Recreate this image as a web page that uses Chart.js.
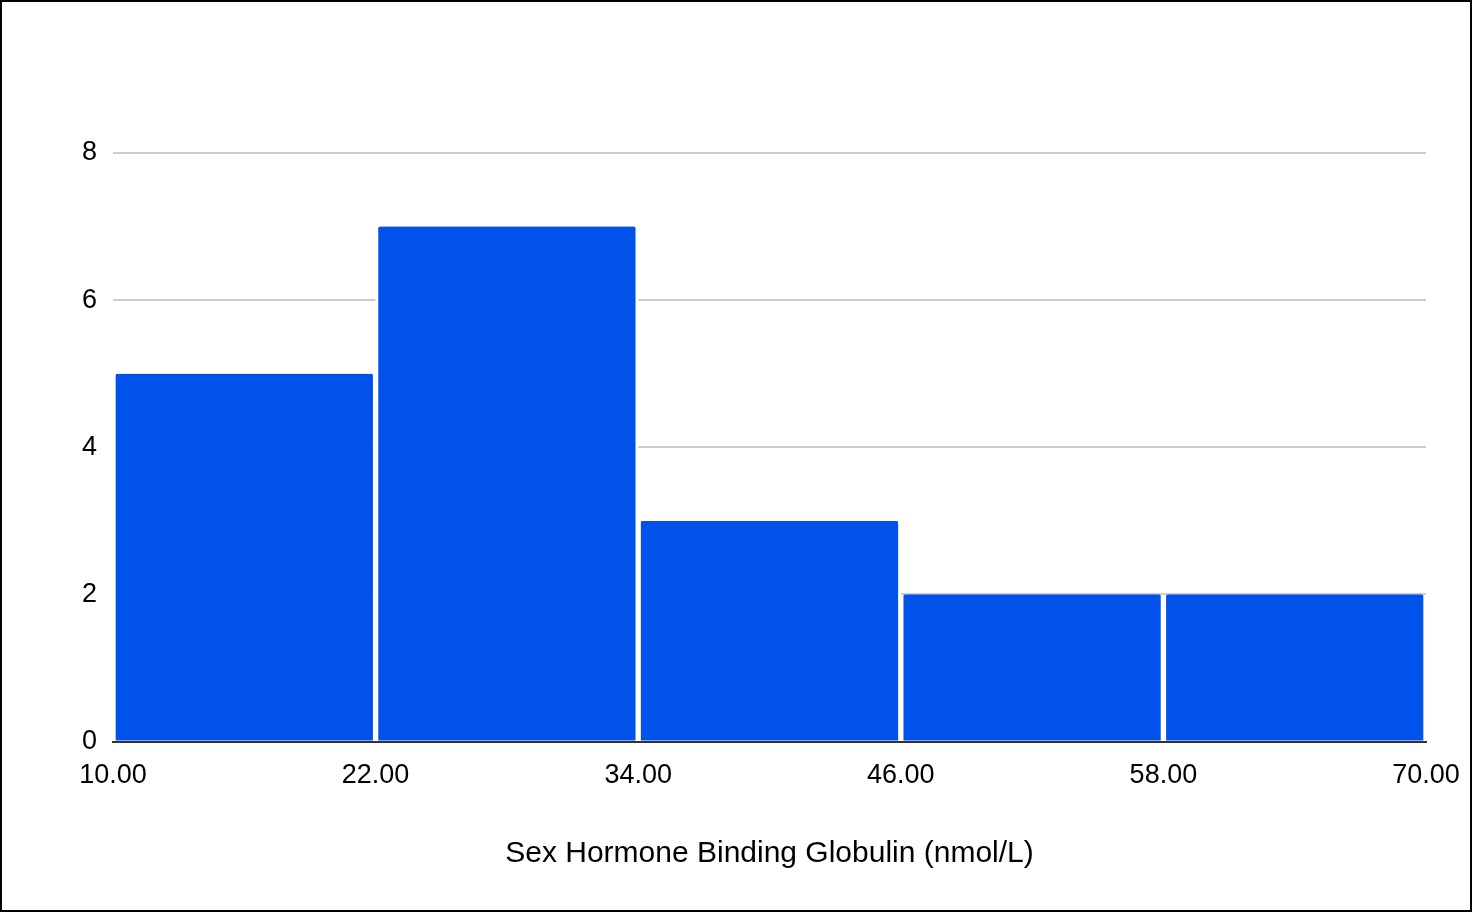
<!DOCTYPE html>
<html>
<head>
<meta charset="utf-8">
<script src="https://cdn.jsdelivr.net/npm/chart.js@4"></script>
<style>
  html, body { margin: 0; padding: 0; background: #fff; }
  #wrap {
    width: 1472px; height: 912px; box-sizing: border-box;
    border: 2px solid #000; background: #fff;
  }
  canvas { display: block; }
</style>
</head>
<body>
<div id="wrap"><canvas id="hist" width="1468" height="908"></canvas></div>
<script>
// histogram bins (nmol/L) and counts
const binEdges = [10, 22, 34, 46, 58, 70];
const counts = [5, 7, 3, 2, 2];
const yTicks = [0, 2, 4, 6, 8];
const xTitle = 'Sex Hormone Binding Globulin (nmol/L)';

const barData = counts.map((c, i) => ({ x: (binEdges[i] + binEdges[i + 1]) / 2, y: c }));

new Chart(document.getElementById('hist'), {
    type: 'bar',
    data: {
        datasets: [{
            data: barData,
            backgroundColor: '#0052EA',
            borderColor: '#ffffff',
            borderWidth: { left: 3, right: 3, top: 0, bottom: 0 },
            borderRadius: { topLeft: 5, topRight: 5 },
            borderSkipped: 'bottom',
            barPercentage: 1,
            categoryPercentage: 1
        }]
    },
    options: {
        responsive: false,
        animation: false,
        layout: { padding: { left: 0, right: 44, top: 151, bottom: 38 } },
        plugins: { legend: { display: false }, tooltip: { enabled: false } },
        scales: {
            x: {
                type: 'linear',
                offset: false,
                min: binEdges[0],
                max: binEdges[binEdges.length - 1],
                afterBuildTicks: axis => { axis.ticks = binEdges.map(v => ({ value: v })); },
                afterFit: scale => { scale.paddingLeft = 0; scale.paddingRight = 0; },
                grid: { display: false, drawTicks: false },
                border: { display: true, color: '#333333', width: 2 },
                ticks: {
                    color: '#000',
                    padding: 18,
                    maxRotation: 0,
                    font: { family: 'Liberation Sans, Arial, sans-serif', size: 27 },
                    callback: v => Number(v).toFixed(2)
                },
                title: {
                    display: true,
                    text: xTitle,
                    color: '#000',
                    padding: { top: 26, bottom: 0 },
                    font: { family: 'Liberation Sans, Arial, sans-serif', size: 30 }
                }
            },
            y: {
                min: 0,
                max: 8,
                afterBuildTicks: axis => { axis.ticks = yTicks.map(v => ({ value: v })); },
                afterFit: scale => { scale.width = 111; },
                grid: { color: '#cccccc', lineWidth: 2, drawTicks: false },
                border: { display: false },
                ticks: {
                    color: '#000',
                    padding: 16,
                    font: { family: 'Liberation Sans, Arial, sans-serif', size: 27 }
                }
            }
        }
    }
});
</script>
</body>
</html>
